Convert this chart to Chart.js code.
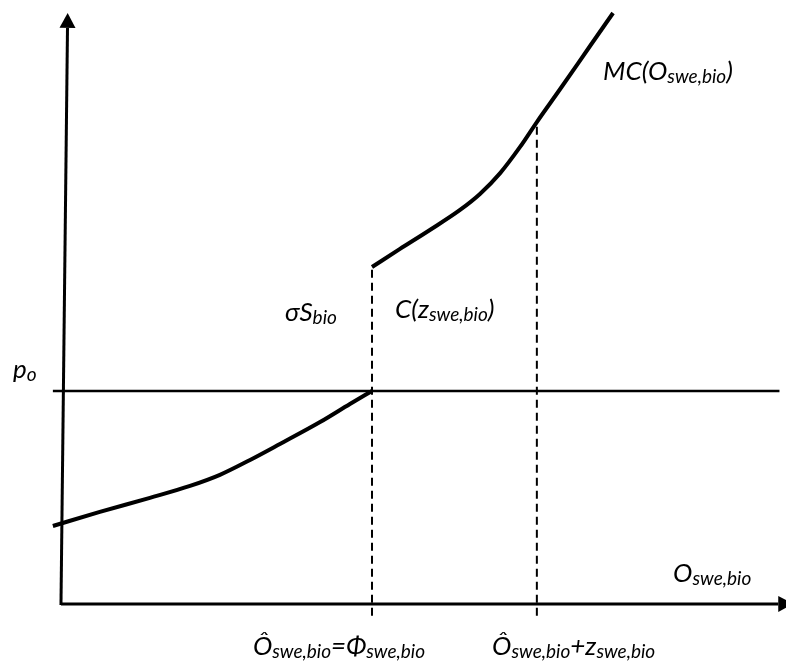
<!DOCTYPE html>
<html>
<head>
<meta charset="utf-8">
<script src="https://cdn.jsdelivr.net/npm/chart.js@4"></script>
<style>
  html, body { margin: 0; padding: 0; background: #ffffff; }
  #wrap { width: 786px; height: 661px; }
</style>
</head>
<body>
<div id="wrap"><canvas id="c" width="786" height="661"></canvas></div>
<script>
// Quantity (x) and price (y) in diagram units.
const oHat = 10.0;          // Ô = Φ, threshold quantity
const zSwe = 5.3;           // extra quantity z
const pO = 10.0;            // output price p_o

// Marginal cost below the threshold
const mcLowX = [-0.26, 1.25, 2.86, 4.15, 5.11, 6.08, 7.04, 8.33, 9.29, 10.0];
const mcLowY = [3.66, 4.32, 4.98, 5.54, 6.06, 6.76, 7.51, 8.54, 9.39, 10.0];

// Marginal cost above the threshold (after the jump)
const mcHighX = [10.0, 10.90, 11.86, 12.83, 13.47, 14.12, 14.76, 15.3, 16.05, 17.01, 17.75];
const mcHighY = [15.82, 16.67, 17.56, 18.50, 19.25, 20.23, 21.46, 22.63, 24.18, 26.20, 27.75];

// Axes (end points at the arrow bases)
const xAxisX = [0, 23.06];
const xAxisY = [0, 0];
const yAxisX = [0, 0.21];
const yAxisY = [-0.05, 27.05];

// Price line
const priceX = [-0.26, 23.1];

const pts = (xs, ys) => xs.map((x, i) => ({ x: x, y: ys[i] }));

// Text annotations: [x, y, parts]; each part is [text, 'm' | 's'] (main / subscript)
const notes = [
  [17.43, 24.6, [['MC(O', 'm'], ['swe,bio', 's'], [')', 'm']]],
  [7.20, 13.3, [['σS', 'm'], ['bio', 's']]],
  [10.74, 13.43, [['C(z', 'm'], ['swe,bio', 's'], [')', 'm']]],
  [-1.54, 10.6, [['p', 'm'], ['o', 's']]],
  [19.68, 1.03, [['O', 'm'], ['swe,bio', 's']]],
  [6.17, -2.39, [['Ô', 'm'], ['swe,bio', 's'], ['=Φ', 'm'], ['swe,bio', 's']]],
  [13.86, -2.39, [['Ô', 'm'], ['swe,bio', 's'], ['+z', 'm'], ['swe,bio', 's']]]
];

const MAIN_FONT = 'italic 26px Lato, "Open Sans", sans-serif';
const SUB_FONT = 'italic 19px Lato, "Open Sans", sans-serif';
const SUB_DROP = 3;

const arrowPlugin = {
  id: 'arrows',
  afterDatasetsDraw(chart) {
    const ctx = chart.ctx;
    const xs = chart.scales.x, ys = chart.scales.y;
    chart.data.datasets.forEach(ds => {
      if (!ds.arrow) return;
      const d = ds.data;
      const a = d[d.length - 2], b = d[d.length - 1];
      const ax = xs.getPixelForValue(a.x), ay = ys.getPixelForValue(a.y);
      const bx = xs.getPixelForValue(b.x), by = ys.getPixelForValue(b.y);
      const len = Math.hypot(bx - ax, by - ay);
      const ux = (bx - ax) / len, uy = (by - ay) / len;
      const L = 15, W = 8;
      ctx.save();
      ctx.fillStyle = '#000';
      ctx.beginPath();
      ctx.moveTo(bx + ux * L, by + uy * L);
      ctx.lineTo(bx - uy * W, by + ux * W);
      ctx.lineTo(bx + uy * W, by - ux * W);
      ctx.closePath();
      ctx.fill();
      ctx.restore();
    });
  },
  afterDraw(chart) {
    const ctx = chart.ctx;
    const xs = chart.scales.x, ys = chart.scales.y;
    ctx.save();
    ctx.fillStyle = '#000';
    ctx.textBaseline = 'alphabetic';
    notes.forEach(([x, y, parts]) => {
      let px = xs.getPixelForValue(x);
      const py = ys.getPixelForValue(y);
      parts.forEach(([t, kind]) => {
        ctx.font = kind === 's' ? SUB_FONT : MAIN_FONT;
        ctx.fillText(t, px, kind === 's' ? py + SUB_DROP : py);
        px += ctx.measureText(t).width;
      });
    });
    ctx.restore();
  }
};

const line = (data, extra) => Object.assign({
  data: data,
  showLine: true,
  borderColor: '#000',
  backgroundColor: '#000',
  pointRadius: 0,
  pointHoverRadius: 0,
  fill: false,
  clip: false
}, extra);

new Chart(document.getElementById('c'), {
  type: 'scatter',
  data: {
    datasets: [
      line(pts(xAxisX, xAxisY), { borderWidth: 3, arrow: true }),
      line(pts(yAxisX, yAxisY), { borderWidth: 3, arrow: true }),
      line(pts(priceX, [pO, pO]), { borderWidth: 2.5 }),
      line(pts([oHat, oHat], [-0.55, mcHighY[0]]), { borderWidth: 2, borderDash: [8, 5] }),
      line(pts([oHat + zSwe, oHat + zSwe], [-0.55, mcHighY[7]]), { borderWidth: 2, borderDash: [8, 5] }),
      line(pts(mcLowX, mcLowY), { borderWidth: 4, cubicInterpolationMode: 'monotone' }),
      line(pts(mcHighX, mcHighY), { borderWidth: 4, cubicInterpolationMode: 'monotone' })
    ]
  },
  options: {
    responsive: false,
    animation: false,
    events: [],
    layout: { padding: 0 },
    plugins: { legend: { display: false }, tooltip: { enabled: false }, title: { display: false } },
    scales: {
      x: { type: 'linear', display: false, min: -1.96, max: 23.31 },
      y: { type: 'linear', display: false, min: -2.68, max: 28.36 }
    }
  },
  plugins: [arrowPlugin]
});
</script>
</body>
</html>
